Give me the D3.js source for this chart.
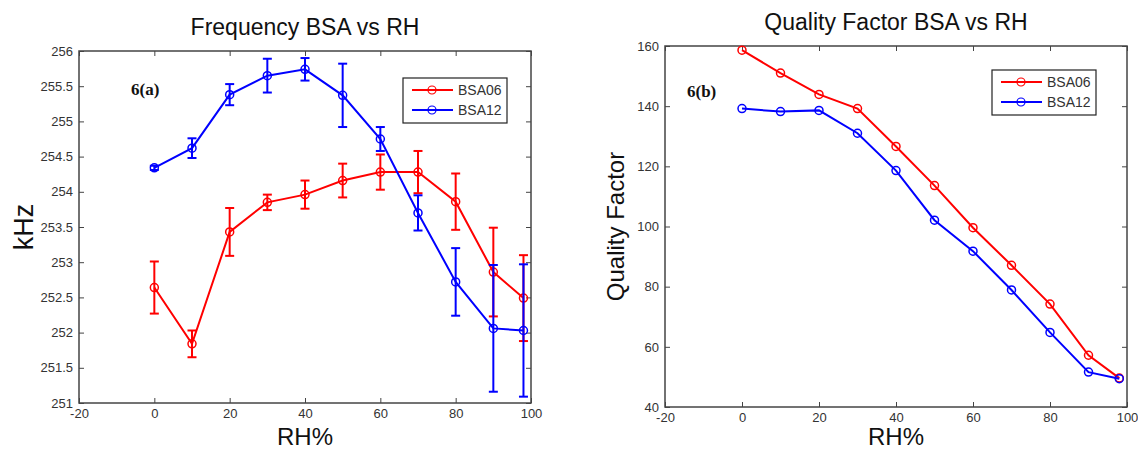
<!DOCTYPE html>
<html>
<head>
<meta charset="utf-8">
<script src="https://cdn.jsdelivr.net/npm/d3@7"></script>
<style>
  body { margin: 0; background: #fff; }
  .tick text { fill: #333; font-size: 13px; font-family: "Liberation Sans", Arial, sans-serif; }
  .tick line { stroke: #444; }
</style>
</head>
<body>
<script>
// relative humidity points (shared by both panels)
const rh = [0, 10, 20, 30, 40, 50, 60, 70, 80, 90, 98];

// panel (a): resonant frequency, kHz, with error bars
const freqBSA06 = [252.64, 251.84, 253.43, 253.85, 253.96, 254.16, 254.28, 254.28, 253.86, 252.86, 252.49];
const errBSA06  = [0.37, 0.19, 0.34, 0.11, 0.20, 0.24, 0.25, 0.30, 0.40, 0.63, 0.61];
const freqBSA12 = [254.34, 254.62, 255.38, 255.65, 255.74, 255.37, 254.75, 253.70, 252.72, 252.06, 252.03];
const errBSA12  = [0.03, 0.14, 0.15, 0.24, 0.16, 0.45, 0.17, 0.25, 0.48, 0.90, 0.94];

// panel (b): quality factor
const qBSA06 = [158.6, 151.0, 143.9, 139.2, 126.6, 113.6, 99.6, 87.1, 74.2, 57.2, 49.6];
const qBSA12 = [139.2, 138.2, 138.6, 131.0, 118.6, 102.1, 91.8, 78.9, 64.8, 51.6, 49.4];

const xTicks = [-20, 0, 20, 40, 60, 80, 100];
const freqTicks = [251, 251.5, 252, 252.5, 253, 253.5, 254, 254.5, 255, 255.5, 256];
const qTicks = [40, 60, 80, 100, 120, 140, 160];
const seriesNames = ["BSA06", "BSA12"];
const colors = ["#ff0000", "#0000ff"];

const sans = "'Liberation Sans', Arial, sans-serif";

const svg = d3.select("body").append("svg")
  .attr("width", 1138).attr("height", 452);

function panel(opt) {
  const x = d3.scaleLinear().domain([-20, 100]).range([opt.left, opt.right]);
  const y = d3.scaleLinear().domain(opt.yDomain).range([opt.bottom, opt.top]);
  const g = svg.append("g");

  // axes, MATLAB style: inward ticks on all four sides
  const ax = (axis, tr) => {
    const a = g.append("g").attr("transform", tr).call(axis);
    a.select(".domain").remove();
    return a;
  };
  const fmt = d => String(d);
  ax(d3.axisBottom(x).tickValues(xTicks).tickSizeInner(-5).tickSizeOuter(0).tickPadding(6).tickFormat(fmt),
     `translate(0,${opt.bottom})`);
  ax(d3.axisTop(x).tickValues(xTicks).tickSizeInner(-5).tickSizeOuter(0).tickFormat(""),
     `translate(0,${opt.top})`);
  ax(d3.axisLeft(y).tickValues(opt.yTicks).tickSizeInner(-5).tickSizeOuter(0).tickPadding(6).tickFormat(fmt),
     `translate(${opt.left},0)`);
  ax(d3.axisRight(y).tickValues(opt.yTicks).tickSizeInner(-5).tickSizeOuter(0).tickFormat(""),
     `translate(${opt.right},0)`);

  g.append("rect")
    .attr("x", opt.left).attr("y", opt.top)
    .attr("width", opt.right - opt.left).attr("height", opt.bottom - opt.top)
    .attr("fill", "none").attr("stroke", "#444").attr("stroke-width", 1.5);

  // series
  opt.series.forEach((vals, i) => {
    const pts = rh.map((r, k) => ({x: r, y: vals[k], e: opt.errors ? opt.errors[i][k] : 0}));
    const col = colors[i];
    if (opt.errors) {
      const eb = g.append("g").attr("stroke", col).attr("stroke-width", 2).attr("fill", "none");
      pts.forEach(p => {
        const cx = x(p.x), y1 = y(p.y + p.e), y2 = y(p.y - p.e);
        eb.append("line").attr("x1", cx).attr("x2", cx).attr("y1", y1).attr("y2", y2);
        eb.append("line").attr("x1", cx - 4.5).attr("x2", cx + 4.5).attr("y1", y1).attr("y2", y1);
        eb.append("line").attr("x1", cx - 4.5).attr("x2", cx + 4.5).attr("y1", y2).attr("y2", y2);
      });
    }
    g.append("path").datum(pts)
      .attr("fill", "none").attr("stroke", col).attr("stroke-width", 2)
      .attr("d", d3.line().x(d => x(d.x)).y(d => y(d.y)));
    g.selectAll(null).data(pts).enter().append("circle")
      .attr("cx", d => x(d.x)).attr("cy", d => y(d.y)).attr("r", 4)
      .attr("fill", "none").attr("stroke", col).attr("stroke-width", 1.5);
  });

  // legend
  const lg = g.append("g");
  lg.append("rect")
    .attr("x", opt.legend[0]).attr("y", opt.legend[1]).attr("width", 104).attr("height", 45)
    .attr("fill", "#fff").attr("stroke", "#222").attr("stroke-width", 1.2);
  seriesNames.forEach((name, i) => {
    const ly = opt.legend[1] + 12 + i * 20;
    const lx = opt.legend[0] + 9;
    lg.append("line").attr("x1", lx).attr("x2", lx + 41).attr("y1", ly).attr("y2", ly)
      .attr("stroke", colors[i]).attr("stroke-width", 2);
    lg.append("circle").attr("cx", lx + 20).attr("cy", ly).attr("r", 4)
      .attr("fill", "none").attr("stroke", colors[i]).attr("stroke-width", 1.2);
    lg.append("text").attr("x", lx + 46).attr("y", ly + 5)
      .style("font-family", sans).attr("font-size", 14).attr("fill", "#333").text(name);
  });

  // labels
  g.append("text").attr("x", (opt.left + opt.right) / 2).attr("y", opt.top - 16)
    .style("font-family", sans)
    .attr("text-anchor", "middle").attr("font-size", 23).attr("fill", "#111").text(opt.title);
  g.append("text").attr("x", (opt.left + opt.right) / 2).attr("y", opt.xLabelY)
    .style("font-family", sans)
    .attr("text-anchor", "middle").attr("font-size", 24).attr("fill", "#111").text("RH%");
  g.append("text")
    .attr("transform", `translate(${opt.yLabelX},${(opt.top + opt.bottom) / 2}) rotate(-90)`)
    .style("font-family", sans)
    .attr("text-anchor", "middle").attr("font-size", opt.yLabelSize).attr("fill", "#111")
    .text(opt.yLabel);
  g.append("text").attr("x", opt.tag[0]).attr("y", opt.tag[1])
    .style("font-family", "'Liberation Serif', 'DejaVu Serif', serif")
    .style("font-weight", "bold")
    .attr("font-size", 17).attr("fill", "#111").text(opt.tagText);
}

panel({
  left: 79, right: 531, top: 51, bottom: 403,
  yDomain: [251, 256], yTicks: freqTicks,
  series: [freqBSA06, freqBSA12], errors: [errBSA06, errBSA12],
  legend: [403, 78], title: "Frequency BSA vs RH",
  yLabel: "kHz", yLabelX: 33, yLabelSize: 27, xLabelY: 445,
  tag: [131, 95], tagText: "6(a)"
});

panel({
  left: 665, right: 1127, top: 46, bottom: 407,
  yDomain: [40, 160], yTicks: qTicks,
  series: [qBSA06, qBSA12], errors: null,
  legend: [992, 70], title: "Quality Factor BSA vs RH",
  yLabel: "Quality Factor", yLabelX: 624, yLabelSize: 24, xLabelY: 445,
  tag: [687, 97], tagText: "6(b)"
});
</script>
</body>
</html>
